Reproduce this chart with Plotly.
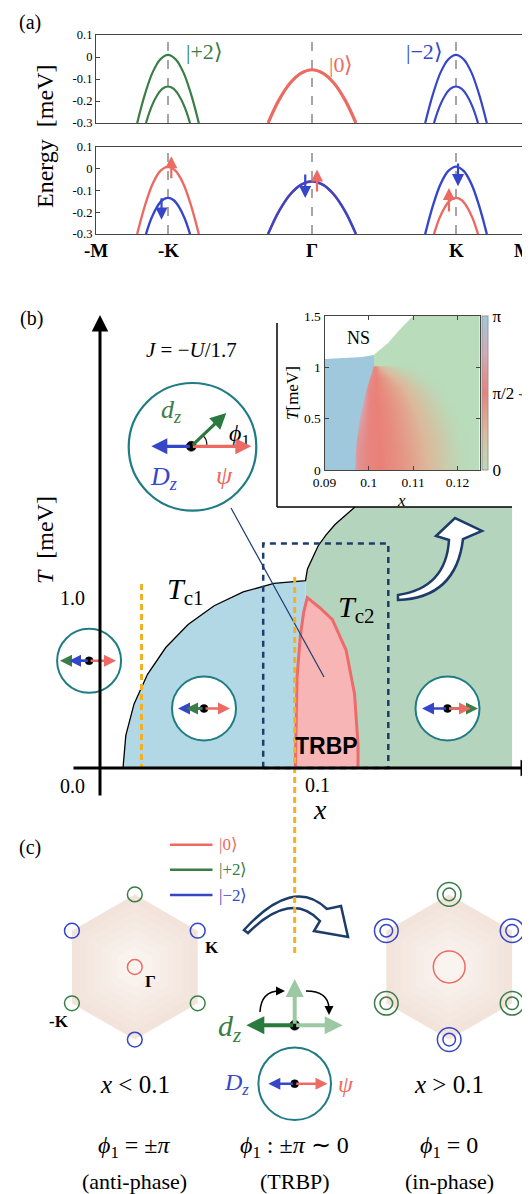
import plotly.graph_objects as go

W, H = 530, 1194
SERIF = "Liberation Serif"
SANS = "Liberation Sans"

RED = "#ec6a62"
GREEN = "#3a7d47"
BLUE = "#3546c9"
TEAL = "#1f7c84"
NAVY = "#1c3c6b"
ORANGE = "#f2b124"

# ---------------- Panel (a) data ----------------
valley_k = [-1.0, 0.0, 1.0]                      # -K, Gamma, K
tick_k = [-1.5, -1.0, 0.0, 1.0, 1.5]
tick_k_text = ["-M", "-K", "Γ", "K", "M"]
y_ticks = [0.1, 0.0, -0.1, -0.2, -0.3]
y_ticktext = ["0.1", "0", "-0.1", "-0.2", "-0.3"]

dk_outer = [-0.214, -0.16, -0.107, -0.053, 0.0, 0.053, 0.107, 0.16, 0.214]
E_outer = [-0.30, -0.169, -0.070, -0.010, 0.010, -0.010, -0.070, -0.169, -0.30]
dk_inner = [-0.153, -0.115, -0.077, -0.038, 0.0, 0.038, 0.077, 0.115, 0.153]
E_inner = [-0.30, -0.227, -0.176, -0.144, -0.134, -0.144, -0.176, -0.227, -0.30]
dk_gamma = [-0.305, -0.23, -0.15, -0.075, 0.0, 0.075, 0.15, 0.23, 0.305]
E_gamma = [-0.30, -0.196, -0.117, -0.073, -0.058, -0.073, -0.117, -0.196, -0.30]

spin_k = [-0.977, -1.045, -0.047, 0.035, 1.014, 0.951]
spin_E_tail = [-0.05, -0.129, -0.019, -0.111, 0.031, -0.204]
spin_E_head = [0.058, -0.234, -0.135, -0.003, -0.08, -0.088]
spin_color = [RED, BLUE, BLUE, RED, BLUE, RED]

# ---------------- Panel (b) data ----------------
Tc1_x = [0.0106, 0.0119, 0.0157, 0.0219, 0.0303, 0.0406, 0.0526, 0.0660, 0.0801, 0.0947]
Tc1_T = [0.0, 0.191, 0.376, 0.550, 0.707, 0.842, 0.952, 1.033, 1.083, 1.099]
Tc2_x = [0.0947, 0.0956, 0.0978, 0.1005, 0.1041, 0.1083, 0.1134, 0.1175]
Tc2_T = [1.099, 1.168, 1.228, 1.303, 1.367, 1.429, 1.486, 1.532]
x_split = 0.0947
x_right = 0.1899
trbp_x = [0.0900, 0.0903, 0.0908, 0.0923, 0.0938, 0.0955, 0.1014, 0.1071, 0.1134, 0.1173, 0.1189, 0.1189]
trbp_T = [0.0, 0.235, 0.534, 0.772, 0.910, 1.0, 0.939, 0.871, 0.692, 0.434, 0.137, 0.0]

# inset: phi_1 / pi on a grid
inset_x = [0.09, 0.0925, 0.095, 0.0975, 0.1, 0.1025, 0.105, 0.1075, 0.11, 0.1125, 0.115, 0.1175, 0.12, 0.1225, 0.125]
inset_T = [0.0, 0.1, 0.2, 0.3, 0.4, 0.5, 0.6, 0.7, 0.8, 0.9, 1.0, 1.1, 1.2, 1.3, 1.4, 1.5]
phi_over_pi = [
    [1, 1, 1, 0.62, 0.52, 0.50, 0.46, 0.41, 0.34, 0.27, 0.19, 0.11, 0.04, 0, 0],
    [1, 1, 1, 0.62, 0.52, 0.50, 0.46, 0.41, 0.34, 0.27, 0.19, 0.11, 0.04, 0, 0],
    [1, 1, 1, 0.63, 0.52, 0.50, 0.46, 0.40, 0.33, 0.26, 0.18, 0.10, 0.03, 0, 0],
    [1, 1, 1, 0.65, 0.52, 0.50, 0.45, 0.39, 0.32, 0.25, 0.17, 0.09, 0.02, 0, 0],
    [1, 1, 1, 0.70, 0.52, 0.49, 0.45, 0.38, 0.31, 0.23, 0.15, 0.07, 0.01, 0, 0],
    [1, 1, 1, 0.78, 0.53, 0.49, 0.44, 0.37, 0.29, 0.21, 0.12, 0.05, 0, 0, 0],
    [1, 1, 1, 0.88, 0.53, 0.49, 0.43, 0.35, 0.26, 0.17, 0.09, 0.02, 0, 0, 0],
    [1, 1, 1, 1, 0.54, 0.48, 0.41, 0.32, 0.22, 0.13, 0.05, 0, 0, 0, 0],
    [1, 1, 1, 1, 0.56, 0.47, 0.38, 0.27, 0.16, 0.07, 0.01, 0, 0, 0, 0],
    [1, 1, 1, 1, 0.60, 0.45, 0.30, 0.17, 0.07, 0.01, 0, 0, 0, 0, 0],
    [1, 1, 1, 1, 0.80, 0.30, 0.10, 0.02, 0, 0, 0, 0, 0, 0, 0],
    [1, 1, 1, 1, 1, 0, 0, 0, 0, 0, 0, 0, 0, 0, 0],
    [1, 1, 1, 1, 1, 0, 0, 0, 0, 0, 0, 0, 0, 0, 0],
    [1, 1, 1, 1, 1, 0, 0, 0, 0, 0, 0, 0, 0, 0, 0],
    [1, 1, 1, 1, 1, 0, 0, 0, 0, 0, 0, 0, 0, 0, 0],
    [1, 1, 1, 1, 1, 0, 0, 0, 0, 0, 0, 0, 0, 0, 0],
]
inset_blue_x = [0.09, 0.0969, 0.0972, 0.098, 0.0993, 0.1011, 0.1011, 0.09]
inset_blue_T = [0.0, 0.0, 0.25, 0.5, 0.75, 1.01, 1.12, 1.08]
inset_green_x = [0.1011, 0.125, 0.125, 0.1011]
inset_green_T = [1.01, 1.01, 1.5, 1.5]
ns_x = [0.09, 0.0925, 0.095, 0.0985, 0.1011, 0.1044, 0.1066, 0.1095, 0.1104, 0.09]
ns_T = [1.08, 1.085, 1.09, 1.1, 1.12, 1.24, 1.35, 1.48, 1.5, 1.5]


def X(p):
    return p / W


def Y(p):
    return 1 - p / H


fig = go.Figure()

# ---------------- Panel (a) traces ----------------
def band(dk, E, kc, color, width, xa, ya):
    fig.add_trace(go.Scatter(x=[kc + d for d in dk], y=E, mode="lines",
                             line=dict(color=color, width=width, shape="spline"),
                             xaxis=xa, yaxis=ya, showlegend=False, hoverinfo="skip"))

band(dk_outer, E_outer, valley_k[0], GREEN, 2.2, "x", "y")
band(dk_inner, E_inner, valley_k[0], GREEN, 2.2, "x", "y")
band(dk_gamma, E_gamma, valley_k[1], RED, 3.2, "x", "y")
band(dk_outer, E_outer, valley_k[2], BLUE, 2.2, "x", "y")
band(dk_inner, E_inner, valley_k[2], BLUE, 2.2, "x", "y")

band(dk_outer, E_outer, valley_k[0], RED, 2.4, "x2", "y2")
band(dk_inner, E_inner, valley_k[0], BLUE, 2.4, "x2", "y2")
band(dk_gamma, E_gamma, valley_k[1], RED, 2.6, "x2", "y2")
band(dk_gamma, E_gamma, valley_k[1], BLUE, 2.4, "x2", "y2")
band(dk_outer, E_outer, valley_k[2], BLUE, 2.4, "x2", "y2")
band(dk_inner, E_inner, valley_k[2], RED, 2.4, "x2", "y2")

# ---------------- Panel (b) main traces ----------------
fig.add_trace(go.Scatter(x=Tc1_x + [x_split], y=Tc1_T + [0.0], fill="toself",
                         fillcolor="#b3d8e5", line=dict(width=0), mode="lines",
                         xaxis="x3", yaxis="y3", showlegend=False, hoverinfo="skip"))
fig.add_trace(go.Scatter(x=Tc2_x + [x_right, x_right, x_split], y=Tc2_T + [Tc2_T[-1], 0.0, 0.0],
                         fill="toself", fillcolor="#b4d4bd", line=dict(width=0), mode="lines",
                         xaxis="x3", yaxis="y3", showlegend=False, hoverinfo="skip"))
fig.add_trace(go.Scatter(x=trbp_x, y=trbp_T, fill="toself", fillcolor="#f8b5b5",
                         line=dict(color="#ee6b6b", width=3), mode="lines",
                         xaxis="x3", yaxis="y3", showlegend=False, hoverinfo="skip"))
fig.add_trace(go.Scatter(x=Tc1_x + Tc2_x, y=Tc1_T + Tc2_T, mode="lines",
                         line=dict(color="black", width=1.3),
                         xaxis="x3", yaxis="y3", showlegend=False, hoverinfo="skip"))

# ---------------- Inset ----------------
cscale = [[0, "#b9dcba"], [0.25, "#dcb99b"], [0.5, "#ea8178"], [0.75, "#d4a8b6"], [1, "#9fc8dc"]]
fig.add_trace(go.Heatmap(x=inset_x, y=inset_T, z=phi_over_pi, zmin=0, zmax=1, zsmooth="best",
                         colorscale=cscale, xaxis="x4", yaxis="y4", hoverinfo="skip",
                         colorbar=dict(x=X(474), xanchor="left", y=Y(385), yanchor="middle",
                                       len=154 / H, lenmode="fraction", thickness=6,
                                       thicknessmode="pixels", outlinewidth=1, outlinecolor="#999",
                                       xpad=0, ypad=0, tickvals=[0, 0.5, 1],
                                       ticktext=["0", "π/2", "π"], ticks="",
                                       tickfont=dict(family=SERIF, size=17, color="black"))))
for xs, ts, col in [(inset_blue_x, inset_blue_T, "#9fc8dc"),
                    (inset_green_x, inset_green_T, "#b9dcba"),
                    (ns_x, ns_T, "white")]:
    fig.add_trace(go.Scatter(x=xs, y=ts, fill="toself", fillcolor=col, line=dict(width=0),
                             mode="lines", xaxis="x4", yaxis="y4", showlegend=False,
                             hoverinfo="skip"))

# ---------------- decorations ----------------
shapes = []
ann = []


def text(x, y, s, size=20, color="black", family=SERIF, angle=0, xanchor="center", yanchor="middle"):
    ann.append(dict(x=X(x), y=Y(y), xref="paper", yref="paper", text=s, showarrow=False,
                    font=dict(size=size, color=color, family=family), textangle=angle,
                    xanchor=xanchor, yanchor=yanchor))


def arrow(x0, y0, x1, y1, color, width=2.5, size=1.0, head=2):
    ann.append(dict(x=X(x1), y=Y(y1), xref="paper", yref="paper", ax=x0 - x1, ay=y0 - y1,
                    axref="pixel", ayref="pixel", text="", showarrow=True, arrowhead=head,
                    arrowsize=size, arrowwidth=width, arrowcolor=color, standoff=0,
                    startstandoff=0))


def circle(cx, cy, r, color, width=2.0, fill="rgba(0,0,0,0)"):
    shapes.append(dict(type="circle", xref="paper", yref="paper", x0=X(cx - r), x1=X(cx + r),
                       y0=Y(cy + r), y1=Y(cy - r), line=dict(color=color, width=width),
                       fillcolor=fill))


def dot(cx, cy, r=4.5):
    circle(cx, cy, r, "black", 0.5, "black")


def line(x0, y0, x1, y1, color, width=2.0, dash=None):
    d = dict(type="line", xref="paper", yref="paper", x0=X(x0), y0=Y(y0), x1=X(x1), y1=Y(y1),
             line=dict(color=color, width=width))
    if dash:
        d["line"]["dash"] = dash
    shapes.append(d)


def path(tokens, color, width=2.0, fill="rgba(0,0,0,0)"):
    out = []
    cmd = ""
    for t in tokens:
        if isinstance(t, str):
            cmd = t
            if t == "Z":
                out.append("Z")
                cmd = ""
        else:
            out.append(f"{cmd}{X(t[0]):.5f},{Y(t[1]):.5f}")
            cmd = ""
    shapes.append(dict(type="path", xref="paper", yref="paper", path=" ".join(out),
                       line=dict(color=color, width=width), fillcolor=fill))


# panel (a) dashed verticals
for xa, ya in [("x", "y"), ("x2", "y2")]:
    for kc in valley_k:
        shapes.append(dict(type="line", xref=xa, yref=ya + " domain", x0=kc, x1=kc, y0=0, y1=1,
                           line=dict(color="#777", width=1.3, dash="dash"), layer="below"))

# spin arrows (a) bottom
for k, e0, e1, c in zip(spin_k, spin_E_tail, spin_E_head, spin_color):
    ann.append(dict(x=k, y=e1, xref="x2", yref="y2", ax=k, ay=e0, axref="x2", ayref="y2",
                    text="", showarrow=True, arrowhead=2, arrowsize=1.1, arrowwidth=2.2,
                    arrowcolor=c, standoff=0, startstandoff=0))

# k-path labels (bottom axis of panel (a))
for k, t in zip(tick_k, tick_k_text):
    last = (k == tick_k[-1])
    ann.append(dict(x=k, xref="x2", y=Y(242), yref="paper", text=f"<b>{t}</b>", showarrow=False,
                    font=dict(family=SERIF, size=19, color="black"),
                    xanchor="right" if last else "center", xshift=6 if last else 0,
                    yanchor="middle"))

text(22, 15, "(a)", 20)
text(196, 44, "|+2⟩", 22, GREEN)
text(333, 56, "|0⟩", 22, RED)
text(416, 44, "|−2⟩", 22, BLUE)
text(37, 128, "Energy  [meV]", 24, angle=-90)

# panel (b)
text(23, 310, "(b)", 20)
text(183, 342, "<i>J</i> = −<i>U</i>/1.7", 21)

# inset frame
line(269, 315, 269, 499, "black", 1.5)
line(269, 499, 504, 499, "black", 1.5)
text(350, 330, "NS", 18)
text(285, 385, "<i>T</i>[meV]", 17, angle=-90)
text(393, 492, "<i>x</i>", 17)
text(519, 385, "<i>ϕ</i><sub>1</sub>", 16, angle=-90)

# orange dashed line and dashed rectangle
line(133.5, 576, 133.5, 760, ORANGE, 3, "6px,4px")
shapes.append(dict(type="rect", xref="paper", yref="paper", x0=X(255.2), x1=X(380.3),
                   y0=Y(760), y1=Y(535.5), line=dict(color=NAVY, width=2.5, dash="6px,5px"),
                   fillcolor="rgba(0,0,0,0)"))

# thin pointer line
line(223, 500, 316, 669, NAVY, 1.2)

# curved arrow (b)
path(["M", (390, 592), "Q", (448, 590), (455, 531), "L", (474, 523), "L", (447, 510),
      "L", (428, 528), "L", (441, 532), "Q", (438, 580), (390, 587), "Z"], NAVY, 2.5, "white")

# big order-parameter circle
circle(184.5, 438.8, 63.8, TEAL, 2.2, "white")
path(["M", (199, 438.3), "Q", (199, 430), (194.5, 427.5)], "black", 1.2)
dot(183.3, 438.3, 5)
text(163, 403, "<i>d<sub>z</sub></i>", 26, GREEN)
text(231, 427, "<i>ϕ</i><sub>1</sub>", 24)
text(155, 470, "<i>D<sub>z</sub></i>", 26, BLUE)
text(216, 468, "<i>ψ</i>", 26, RED)

# small circles
for cx, cy in [(81.1, 652.8), (196, 700.5), (439.5, 700.5)]:
    circle(cx, cy, 32, TEAL, 2.0, "white")
    dot(cx, cy, 4)

text(177.5, 583, "<i>T</i><sub>c1</sub>", 30)
text(348, 601, "<i>T</i><sub>c2</sub>", 30)
text(318, 738, "<b>TRBP</b>", 23, family=SANS)

text(64, 590, "1.0", 20)
text(64, 778, "0.0", 20)
text(309, 777, "0.1", 20)
text(312, 801, "<i>x</i>", 28)
text(37, 532, "<i>T</i>  [meV]", 24, angle=-90)

# panel (c)
text(22, 839, "(c)", 20)
for yy, c, s in [(836.7, RED, "|0⟩"), (861.7, GREEN, "|+2⟩"), (887, BLUE, "|−2⟩")]:
    line(162, yy, 204.5, yy, c, 2.5)
    text(209, yy, s, 17, c, xanchor="left")

R = 72.6
HW = 62.9
vcols = [GREEN, BLUE, GREEN, BLUE, GREEN, BLUE]
hex_layers = [(1.0, "#f2e3db"), (0.88, "#f3e6de"), (0.76, "#f4e8e1"), (0.64, "#f5ebe4"),
              (0.52, "#f6ede7"), (0.40, "#f8efea"), (0.28, "#f9f2ed"), (0.16, "#faf4f0")]
for cx, cy, double in [(126.8, 959.0, False), (441.2, 959.0, True)]:
    verts = [(cx, cy - R), (cx + HW, cy - R / 2), (cx + HW, cy + R / 2),
             (cx, cy + R), (cx - HW, cy + R / 2), (cx - HW, cy - R / 2)]
    for s, col in hex_layers:
        pts = [(cx + (vx - cx) * s, cy + (vy - cy) * s) for vx, vy in verts]
        toks = ["M", pts[0]] + sum([["L", v] for v in pts[1:]], []) + ["Z"]
        path(toks, "rgba(0,0,0,0)", 0, col)
    for (vx, vy), c in zip(verts, vcols):
        if double:
            circle(vx, vy, 11.8, c, 1.5)
            circle(vx, vy, 6.3, c, 1.5)
        else:
            circle(vx, vy, 7.4, c, 1.5)
    circle(cx, cy, 15.9 if double else 7.4, RED, 1.5)

text(204, 939, "<b>K</b>", 17)
text(142, 973, "<b>Γ</b>", 17)
text(51, 1013, "<b>-K</b>", 17)

# curved arrow (c)
path(["M", (236, 922), "Q", (285, 868), (319, 901), "L", (333, 898), "L", (340, 929),
      "L", (306, 923), "L", (312, 913), "Q", (283, 882), (240, 925), "Z"], NAVY, 2.5, "white")
line(286.7, 569, 286.7, 947, ORANGE, 3, "6px,4px")

# middle diagram
path(["M", (252, 1004), "Q", (253, 983), (272, 983)], "black", 1.5)
path(["M", (298, 983), "Q", (320, 983), (321, 1000)], "black", 1.5)
circle(286.7, 1075.7, 36.3, TEAL, 2.0, "white")
dot(286.7, 1075.7, 4)
dot(286.7, 1017.2, 5)

text(221, 1020, "<i>d<sub>z</sub></i>", 30, GREEN)
text(228, 1076, "<i>D<sub>z</sub></i>", 24, BLUE)
text(338, 1076, "<i>ψ</i>", 24, RED)
text(126.8, 1076, "<i>x</i> &lt; 0.1", 25)
text(441.2, 1076, "<i>x</i> &gt; 0.1", 25)
text(126.8, 1139, "<i>ϕ</i><sub>1</sub> = ±<i>π</i>", 24)
text(286.7, 1139, "<i>ϕ</i><sub>1</sub> : ±<i>π</i> ∼ 0", 24)
text(441.2, 1139, "<i>ϕ</i><sub>1</sub> = 0", 24)
text(126.8, 1173, "(anti-phase)", 22)
text(286.7, 1173, "(TRBP)", 22)
text(441.2, 1173, "(in-phase)", 22)

# ---- arrows (annotations, drawn above shapes) ----
arrow(183.3, 438.3, 143.3, 438.3, BLUE, 3.2)
arrow(183.3, 438.3, 243.3, 438.3, RED, 3.2)
arrow(183.3, 438.3, 218.3, 405, "#2a7a3e", 3.2)
arrow(81.1, 652.8, 52, 652.8, GREEN, 2.4)
arrow(81.1, 652.8, 61, 652.8, BLUE, 2.4)
arrow(81.1, 652.8, 108, 652.8, RED, 2.4)
arrow(196, 700.5, 170, 700.5, BLUE, 2.4)
arrow(196, 700.5, 178, 700.5, GREEN, 2.4)
arrow(196, 700.5, 222, 700.5, RED, 2.4)
arrow(439.5, 700.5, 414, 700.5, BLUE, 2.4)
arrow(439.5, 700.5, 470, 700.5, GREEN, 2.4)
arrow(439.5, 700.5, 463, 700.5, RED, 2.4)
arrow(92, 789, 92, 307, "black", 3, 1.1)
arrow(64, 760, 529, 760, "black", 3, 1.1)
arrow(286.7, 1017.2, 286.7, 971, "#9cc9a4", 4, 0.9)
arrow(286.7, 1017.2, 334.7, 1017.2, "#9cc9a4", 4, 0.9)
arrow(286.7, 1017.2, 238.3, 1017.2, "#2a7a3e", 4, 0.9)
arrow(268, 983, 277, 983, "black", 1.5, 1.2)
arrow(321, 997, 321, 1007, "black", 1.5, 1.2)
arrow(286.7, 1075.7, 260.3, 1075.7, BLUE, 2.4)
arrow(286.7, 1075.7, 319.5, 1075.7, RED, 2.4)

# ---------------- layout ----------------
ax_a = dict(domain=[X(88), X(520)], range=[-1.5, 1.5], showline=True, mirror=True,
            linecolor="#444", linewidth=1.2, showgrid=False, zeroline=False,
            showticklabels=False, ticks="", tickvals=tick_k)
ay_a = dict(range=[-0.3, 0.1], showline=True, mirror="ticks", linecolor="#444", linewidth=1.2,
            ticks="inside", ticklen=4, tickcolor="#444", tickvals=y_ticks, ticktext=y_ticktext,
            tickfont=dict(family=SERIF, size=12.5, color="black"), showgrid=False, zeroline=False)

fig.update_layout(
    width=W, height=H, autosize=False,
    margin=dict(l=0, r=0, t=0, b=0, autoexpand=False),
    paper_bgcolor="white", plot_bgcolor="rgba(0,0,0,0)",
    showlegend=False,
    xaxis=dict(ax_a, anchor="y"),
    yaxis=dict(ay_a, anchor="x", domain=[Y(115), Y(27)]),
    xaxis2=dict(ax_a, anchor="y2"),
    yaxis2=dict(ay_a, anchor="x2", domain=[Y(226), Y(139)]),
    xaxis3=dict(domain=[0, 1], range=[-92 / 2170, (530 - 92) / 2170], visible=False, anchor="y3"),
    yaxis3=dict(domain=[0, 1], range=[(760 - 1194) / 170.4, 760 / 170.4], visible=False, anchor="x3"),
    xaxis4=dict(domain=[X(316.5), X(471.6)], range=[0.09, 0.125], anchor="y4",
                showline=True, mirror="ticks", linecolor="#444", linewidth=1, ticks="inside",
                ticklen=4, tickvals=[0.09, 0.1, 0.11, 0.12], ticktext=["0.09", "0.1", "0.11", "0.12"],
                tickfont=dict(family=SERIF, size=13.5, color="black"), showgrid=False, zeroline=False),
    yaxis4=dict(domain=[Y(462), Y(308)], range=[0, 1.5], anchor="x4",
                showline=True, mirror="ticks", linecolor="#444", linewidth=1, ticks="inside",
                ticklen=4, tickvals=[0, 0.5, 1, 1.5], ticktext=["0", "0.5", "1", "1.5"],
                tickfont=dict(family=SERIF, size=13.5, color="black"), showgrid=False, zeroline=False),
    shapes=shapes,
    annotations=ann,
)

fig.write_html("out.html")
